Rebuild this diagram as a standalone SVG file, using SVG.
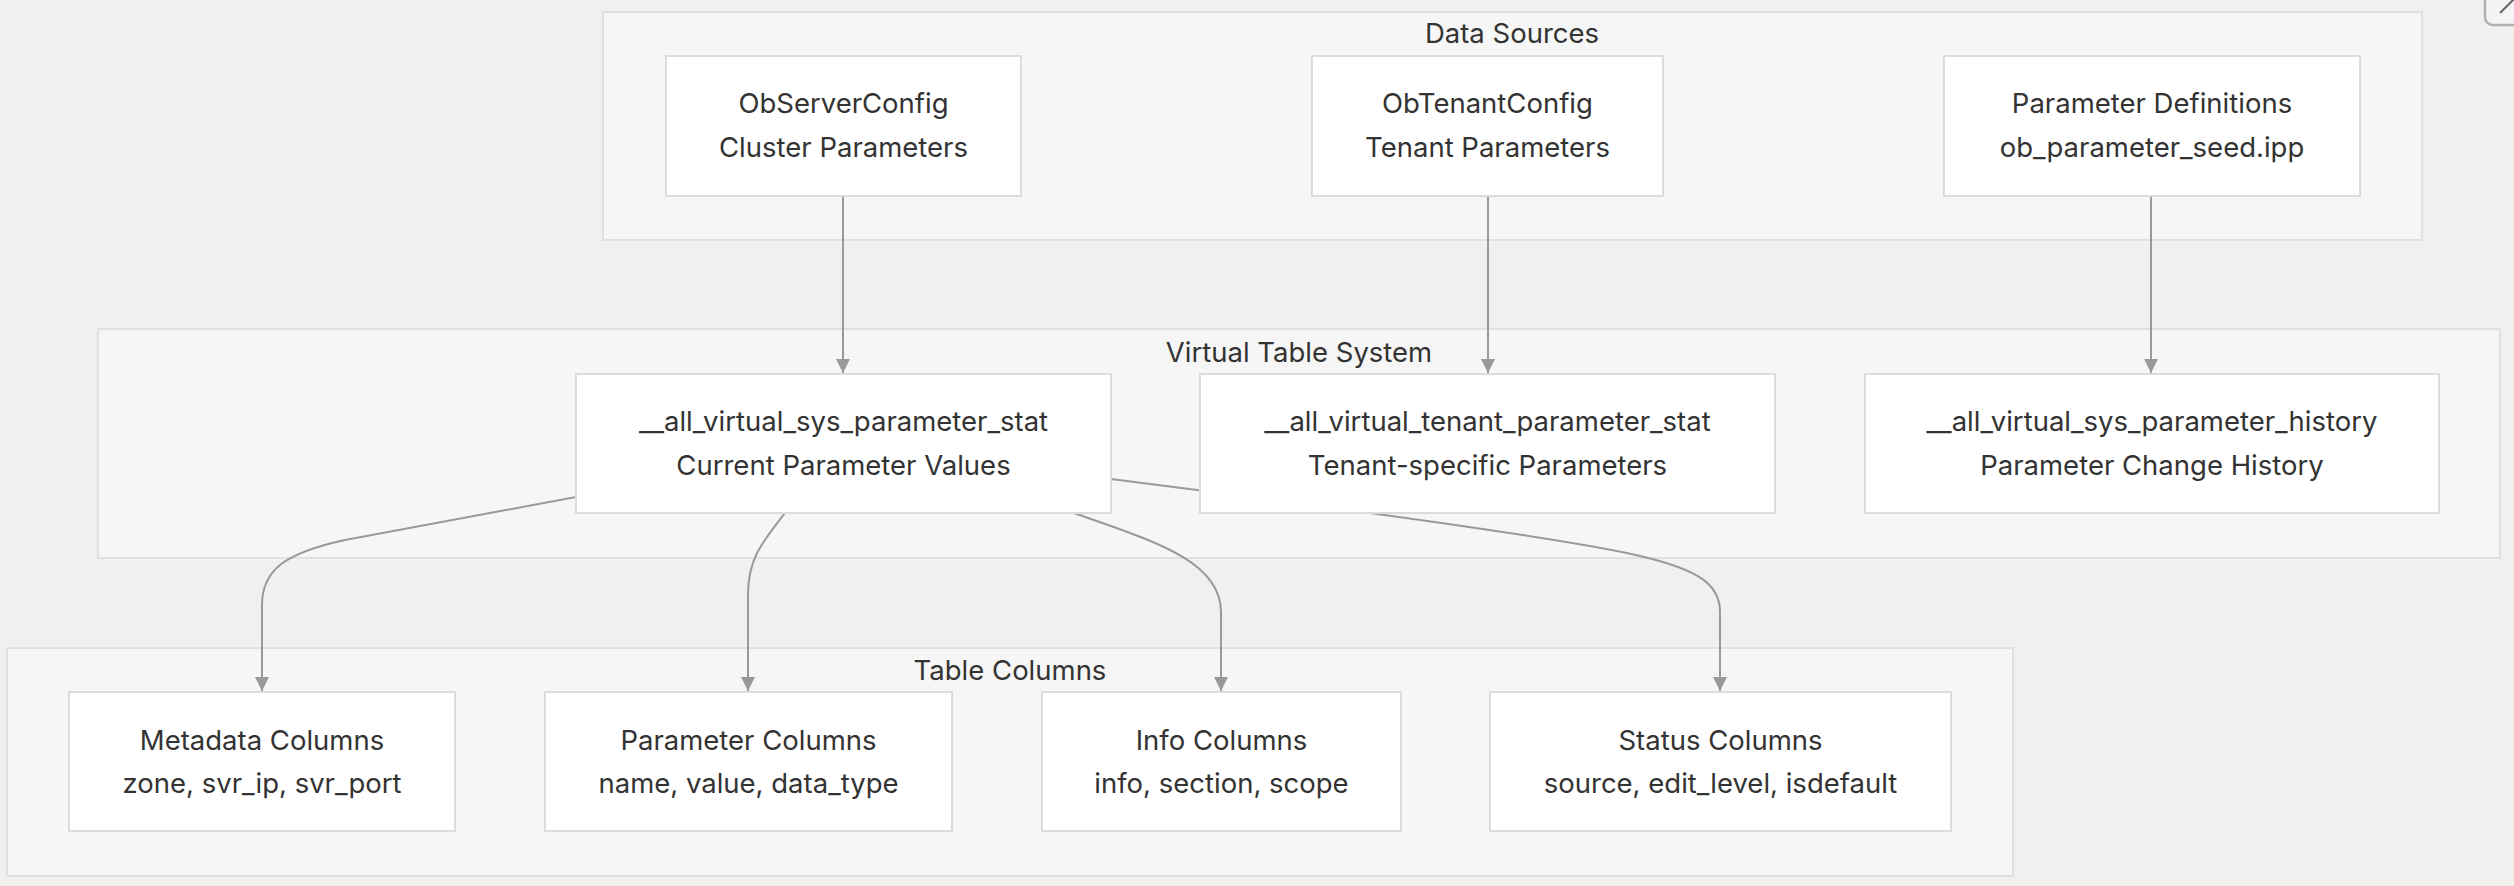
<svg xmlns="http://www.w3.org/2000/svg" width="2514" height="886" viewBox="0 0 2514 886">
<defs>
<style>
.bg{fill:#f1f0ee}
.cluster rect{fill:#f6f6f6;stroke:#e0e0e0;stroke-width:2}
.node rect{fill:#ffffff;stroke:#dcdcdc;stroke-width:2}
text{font-family:Inter,"Liberation Sans",Arial,sans-serif;font-size:27.5px;fill:#333333;text-anchor:middle}
.edge{fill:none;stroke:#999999;stroke-width:2}
</style>
<marker id="arrow" viewBox="0 0 10 10" refX="10" refY="5" markerWidth="14" markerHeight="14" markerUnits="userSpaceOnUse" orient="auto">
<path d="M0,0 L10,5 L0,10 z" fill="#999999"/>
</marker>
</defs>
<rect class="bg" x="0" y="0" width="2514" height="886"/>
<g id="clusters">
<g id="cluster-data-sources" class="cluster"><rect x="603" y="12" width="1819" height="228"/><text x="1512" y="43">Data Sources</text></g>
<g id="cluster-virtual-table-system" class="cluster"><rect x="98" y="329" width="2402" height="229"/><text x="1299" y="362">Virtual Table System</text></g>
<g id="cluster-table-columns" class="cluster"><rect x="7" y="648" width="2006" height="228"/><text x="1010" y="680">Table Columns</text></g>
</g>
<g id="connectors">
<path class="edge" d="M843,196 L843,373" marker-end="url(#arrow)"/>
<path class="edge" d="M1488,196 L1488,373" marker-end="url(#arrow)"/>
<path class="edge" d="M2151,196 L2151,373" marker-end="url(#arrow)"/>
<path class="edge" d="M576,497 L345,540 C285,553 262,570 262,605 L262,691" marker-end="url(#arrow)"/>
<path class="edge" d="M785,513 C760,545 748,560 748,595 L748,691" marker-end="url(#arrow)"/>
<path class="edge" d="M1074,513 C1150,540 1221,560 1221,612 L1221,691" marker-end="url(#arrow)"/>
<path class="edge" d="M1111,479 C1300,503 1560,537 1640,556 C1700,570 1720,585 1720,612 L1720,691" marker-end="url(#arrow)"/>
</g>
<g id="node-observerconfig" class="node"><rect x="666" y="56" width="355" height="140"/><text x="843.5" y="113">ObServerConfig</text><text x="843.5" y="157">Cluster Parameters</text></g>
<g id="node-obtenantconfig" class="node"><rect x="1312" y="56" width="351" height="140"/><text x="1487.5" y="113">ObTenantConfig</text><text x="1487.5" y="157">Tenant Parameters</text></g>
<g id="node-parameter-definitions" class="node"><rect x="1944" y="56" width="416" height="140"/><text x="2152" y="113">Parameter Definitions</text><text x="2152" y="157">ob_parameter_seed.ipp</text></g>
<g id="node-sys-parameter-stat" class="node"><rect x="576" y="374" width="535" height="139"/><text x="843.5" y="431">__all_virtual_sys_parameter_stat</text><text x="843.5" y="475">Current Parameter Values</text></g>
<g id="node-tenant-parameter-stat" class="node"><rect x="1200" y="374" width="575" height="139"/><text x="1487.5" y="431">__all_virtual_tenant_parameter_stat</text><text x="1487.5" y="475">Tenant-specific Parameters</text></g>
<g id="node-sys-parameter-history" class="node"><rect x="1865" y="374" width="574" height="139"/><text x="2152" y="431">__all_virtual_sys_parameter_history</text><text x="2152" y="475">Parameter Change History</text></g>
<g id="node-metadata-columns" class="node"><rect x="69" y="692" width="386" height="139"/><text x="262" y="750">Metadata Columns</text><text x="262" y="793">zone, svr_ip, svr_port</text></g>
<g id="node-parameter-columns" class="node"><rect x="545" y="692" width="407" height="139"/><text x="748.5" y="750">Parameter Columns</text><text x="748.5" y="793">name, value, data_type</text></g>
<g id="node-info-columns" class="node"><rect x="1042" y="692" width="359" height="139"/><text x="1221.5" y="750">Info Columns</text><text x="1221.5" y="793">info, section, scope</text></g>
<g id="node-status-columns" class="node"><rect x="1490" y="692" width="461" height="139"/><text x="1720.5" y="750">Status Columns</text><text x="1720.5" y="793">source, edit_level, isdefault</text></g>
<g id="corner-icon"><rect x="2485" y="-20" width="60" height="45" rx="8" fill="#f4f4f4" stroke="#b0b0b0" stroke-width="2.5"/><line x1="2500" y1="13" x2="2516" y2="-3" stroke="#666666" stroke-width="2"/></g>
</svg>
